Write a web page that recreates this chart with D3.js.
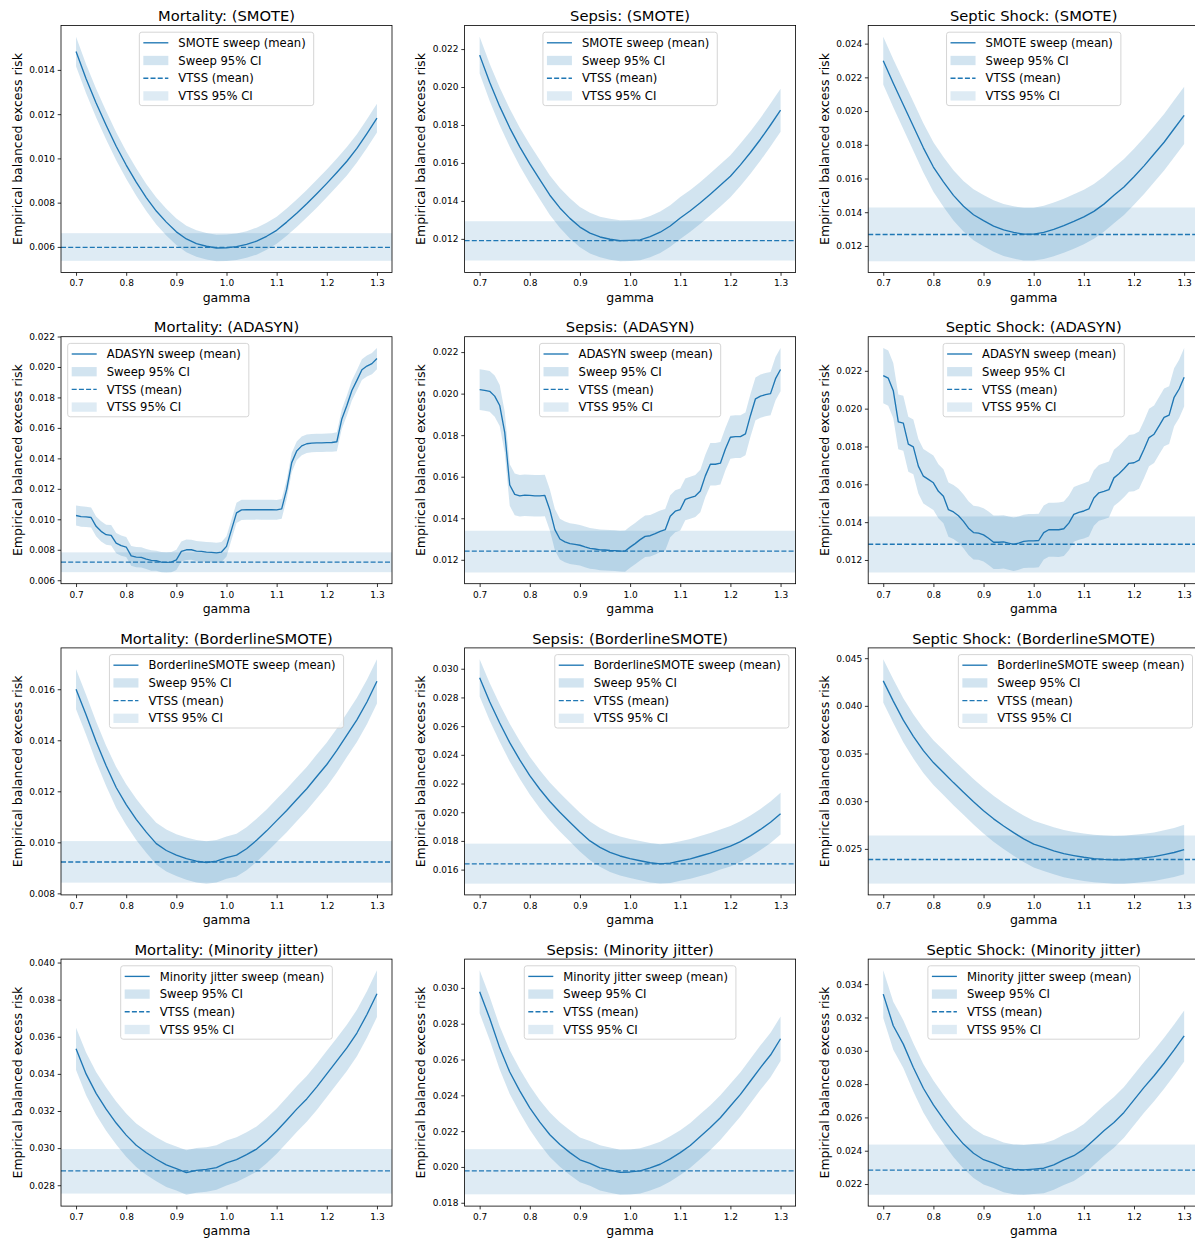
<!DOCTYPE html>
<html>
<head>
<meta charset="utf-8">
<script src="https://cdn.jsdelivr.net/npm/d3@7"></script>
<style>
  body { margin: 0; background: #fff; }
  svg { display: block; }
  text { font-family: "DejaVu Sans", sans-serif; }
</style>
</head>
<body>
<svg id="chart" width="1195" height="1241"></svg>
<script>
// ---------------------------------------------------------------------------
// Sweep grids (gamma values at which the oversampling ratio was evaluated)
// ---------------------------------------------------------------------------
const GAMMA_STEP02 = [0.70,0.72,0.74,0.76,0.78,0.80,0.82,0.84,0.86,0.88,0.90,0.92,0.94,0.96,0.98,1.00,
  1.02,1.04,1.06,1.08,1.10,1.12,1.14,1.16,1.18,1.20,1.22,1.24,1.26,1.28,1.30];
const GAMMA_STEP01 = [0.70,0.71,0.72,0.73,0.74,0.75,0.76,0.77,0.78,0.79,0.80,0.81,0.82,0.83,0.84,0.85,
  0.86,0.87,0.88,0.89,0.90,0.91,0.92,0.93,0.94,0.95,0.96,0.97,0.98,0.99,1.00,1.01,1.02,1.03,1.04,1.05,
  1.06,1.07,1.08,1.09,1.10,1.11,1.12,1.13,1.14,1.15,1.16,1.17,1.18,1.19,1.20,1.21,1.22,1.23,1.24,1.25,
  1.26,1.27,1.28,1.29,1.30];

const OUTCOMES = ["Mortality", "Sepsis", "Septic Shock"];
const METHODS = ["SMOTE", "ADASYN", "BorderlineSMOTE", "Minority jitter"];
const X_TICKS = [0.7, 0.8, 0.9, 1.0, 1.1, 1.2, 1.3];

// ---------------------------------------------------------------------------
// SMOTE sweeps: mean excess risk and half-width of the 95% CI
// ---------------------------------------------------------------------------
const smoteMortMean = [0.01483,0.01360,0.01250,0.01150,0.01055,0.00970,0.00893,0.00823,0.00762,0.00712,
  0.00668,0.00636,0.00615,0.00603,0.00595,0.00596,0.00601,0.00611,0.00626,0.00648,0.00675,0.00712,0.00752,
  0.00795,0.00840,0.00887,0.00936,0.00987,0.01045,0.01112,0.01182];
const smoteMortHalf = [0.00067,0.00066,0.00065,0.00064,0.00063,0.00062,0.00062,0.00061,0.00061,0.00060,
  0.00060,0.00060,0.00060,0.00060,0.00060,0.00060,0.00060,0.00060,0.00061,0.00061,0.00061,0.00062,0.00062,
  0.00062,0.00063,0.00063,0.00063,0.00064,0.00064,0.00065,0.00065];

const smoteSepsisMean = [0.02168,0.02025,0.01898,0.01785,0.01685,0.01595,0.01512,0.01430,0.01363,0.01308,
  0.01262,0.01230,0.01210,0.01198,0.01190,0.01192,0.01195,0.01212,0.01235,0.01268,0.01310,0.01348,0.01390,
  0.01435,0.01482,0.01530,0.01590,0.01655,0.01725,0.01800,0.01878];
const smoteSepsisHalf = [0.00097,0.00098,0.00099,0.00100,0.00101,0.00102,0.00103,0.00104,0.00105,0.00106,
  0.00106,0.00107,0.00107,0.00108,0.00108,0.00108,0.00108,0.00109,0.00109,0.00109,0.00110,0.00110,0.00110,
  0.00111,0.00111,0.00111,0.00112,0.00112,0.00112,0.00113,0.00113];

const smoteShockMean = [0.02299,0.02165,0.02038,0.01910,0.01782,0.01668,0.01580,0.01500,0.01435,0.01385,
  0.01350,0.01318,0.01295,0.01280,0.01270,0.01270,0.01280,0.01298,0.01320,0.01345,0.01372,0.01405,0.01448,
  0.01500,0.01550,0.01610,0.01675,0.01745,0.01815,0.01895,0.01975];
const smoteShockHalf = [0.00142,0.00143,0.00144,0.00145,0.00146,0.00147,0.00148,0.00149,0.00150,0.00151,
  0.00152,0.00153,0.00154,0.00155,0.00156,0.00157,0.00158,0.00159,0.00160,0.00161,0.00162,0.00163,0.00164,
  0.00165,0.00166,0.00166,0.00167,0.00167,0.00168,0.00169,0.00170];

// ---------------------------------------------------------------------------
// ADASYN sweeps (finer grid, step-shaped response)
// ---------------------------------------------------------------------------
const adasynMortMean = [0.01025,0.01018,0.01016,0.01012,0.00954,0.00921,0.00899,0.00895,0.00844,0.00827,
  0.00818,0.00760,0.00752,0.00750,0.00739,0.00730,0.00728,0.00719,0.00717,0.00719,0.00734,0.00789,0.00800,
  0.00800,0.00791,0.00789,0.00785,0.00783,0.00780,0.00785,0.00822,0.00932,0.01042,0.01062,0.01063,0.01063,
  0.01063,0.01063,0.01063,0.01063,0.01062,0.01069,0.01196,0.01372,0.01449,0.01482,0.01496,0.01500,0.01502,
  0.01502,0.01503,0.01504,0.01509,0.01659,0.01747,0.01846,0.01912,0.01982,0.02006,0.02022,0.02055];
const adasynMortHalf = [0.00066,0.00067,0.00066,0.00066,0.00065,0.00066,0.00066,0.00067,0.00066,0.00066,
  0.00066,0.00065,0.00066,0.00066,0.00066,0.00067,0.00066,0.00066,0.00066,0.00066,0.00066,0.00066,0.00067,
  0.00066,0.00066,0.00066,0.00066,0.00066,0.00066,0.00066,0.00066,0.00066,0.00066,0.00066,0.00066,0.00066,
  0.00065,0.00066,0.00066,0.00066,0.00065,0.00065,0.00064,0.00063,0.00062,0.00061,0.00060,0.00060,0.00060,
  0.00060,0.00060,0.00061,0.00062,0.00064,0.00065,0.00066,0.00067,0.00068,0.00069,0.00070,0.00070];

const adasynSepsisMean = [0.02019,0.02016,0.02011,0.01988,0.01943,0.01814,0.01560,0.01515,0.01508,0.01511,
  0.01510,0.01508,0.01508,0.01510,0.01440,0.01345,0.01300,0.01286,0.01278,0.01274,0.01270,0.01262,0.01255,
  0.01252,0.01248,0.01247,0.01245,0.01244,0.01242,0.01242,0.01261,0.01278,0.01297,0.01313,0.01316,0.01326,
  0.01337,0.01345,0.01410,0.01434,0.01442,0.01491,0.01499,0.01507,0.01531,0.01604,0.01660,0.01660,0.01665,
  0.01733,0.01790,0.01793,0.01793,0.01806,0.01895,0.01975,0.01988,0.01995,0.02000,0.02072,0.02116];
const adasynSepsisHalf = [0.00098,0.00098,0.00098,0.00099,0.00099,0.00099,0.00100,0.00100,0.00100,0.00100,
  0.00100,0.00100,0.00100,0.00100,0.00099,0.00099,0.00098,0.00098,0.00098,0.00098,0.00098,0.00098,0.00098,
  0.00098,0.00098,0.00098,0.00098,0.00098,0.00098,0.00099,0.00099,0.00099,0.00100,0.00100,0.00100,0.00100,
  0.00100,0.00100,0.00101,0.00101,0.00101,0.00101,0.00101,0.00101,0.00102,0.00102,0.00102,0.00102,0.00102,
  0.00102,0.00103,0.00103,0.00103,0.00103,0.00103,0.00103,0.00104,0.00104,0.00104,0.00104,0.00104];

const adasynShockMean = [0.02175,0.02161,0.02095,0.01930,0.01923,0.01812,0.01798,0.01696,0.01643,0.01626,
  0.01608,0.01563,0.01537,0.01466,0.01454,0.01434,0.01404,0.01368,0.01345,0.01342,0.01333,0.01315,0.01294,
  0.01294,0.01296,0.01289,0.01283,0.01289,0.01298,0.01301,0.01301,0.01303,0.01345,0.01360,0.01360,0.01360,
  0.01365,0.01395,0.01441,0.01452,0.01459,0.01470,0.01528,0.01555,0.01563,0.01572,0.01634,0.01656,0.01682,
  0.01711,0.01714,0.01728,0.01785,0.01847,0.01865,0.01909,0.01954,0.01966,0.02060,0.02104,0.02166];
const adasynShockHalf = [0.00146,0.00146,0.00146,0.00145,0.00145,0.00145,0.00145,0.00144,0.00144,0.00144,
  0.00144,0.00143,0.00143,0.00143,0.00143,0.00142,0.00142,0.00142,0.00142,0.00141,0.00141,0.00141,0.00141,
  0.00141,0.00141,0.00141,0.00141,0.00141,0.00141,0.00142,0.00142,0.00142,0.00143,0.00143,0.00143,0.00144,
  0.00144,0.00144,0.00145,0.00145,0.00146,0.00146,0.00147,0.00147,0.00148,0.00148,0.00149,0.00149,0.00150,
  0.00150,0.00151,0.00151,0.00151,0.00152,0.00152,0.00152,0.00153,0.00153,0.00153,0.00154,0.00154];

// ---------------------------------------------------------------------------
// BorderlineSMOTE sweeps
// ---------------------------------------------------------------------------
const borderMortMean = [0.01600,0.01500,0.01395,0.01300,0.01215,0.01148,0.01090,0.01040,0.00995,0.00968,
  0.00950,0.00936,0.00926,0.00921,0.00926,0.00940,0.00950,0.00975,0.01008,0.01045,0.01085,0.01125,0.01168,
  0.01210,0.01258,0.01305,0.01360,0.01420,0.01480,0.01550,0.01631];
const borderMortHalf = [0.00078,0.00078,0.00079,0.00079,0.00080,0.00080,0.00081,0.00081,0.00082,0.00082,
  0.00082,0.00083,0.00083,0.00083,0.00083,0.00083,0.00084,0.00084,0.00084,0.00084,0.00085,0.00085,0.00085,
  0.00085,0.00086,0.00086,0.00086,0.00086,0.00087,0.00087,0.00087];

const borderSepsisMean = [0.02937,0.02770,0.02622,0.02485,0.02365,0.02255,0.02160,0.02075,0.02000,0.01930,
  0.01862,0.01800,0.01755,0.01720,0.01695,0.01677,0.01662,0.01648,0.01640,0.01645,0.01660,0.01675,0.01695,
  0.01715,0.01740,0.01763,0.01795,0.01835,0.01880,0.01930,0.01990];
const borderSepsisHalf = [0.00130,0.00130,0.00131,0.00131,0.00132,0.00132,0.00133,0.00133,0.00134,0.00134,
  0.00135,0.00135,0.00135,0.00136,0.00136,0.00136,0.00137,0.00137,0.00137,0.00138,0.00138,0.00139,0.00139,
  0.00140,0.00140,0.00141,0.00142,0.00143,0.00143,0.00144,0.00145];

const borderShockMean = [0.04262,0.04050,0.03850,0.03680,0.03530,0.03405,0.03300,0.03195,0.03095,0.02995,
  0.02900,0.02815,0.02740,0.02670,0.02605,0.02550,0.02515,0.02480,0.02450,0.02430,0.02412,0.02398,0.02390,
  0.02385,0.02386,0.02395,0.02405,0.02418,0.02440,0.02462,0.02493];
const borderShockHalf = [0.00228,0.00230,0.00231,0.00233,0.00234,0.00235,0.00236,0.00237,0.00238,0.00239,
  0.00240,0.00241,0.00242,0.00243,0.00244,0.00245,0.00246,0.00246,0.00247,0.00248,0.00248,0.00249,0.00249,
  0.00250,0.00251,0.00252,0.00253,0.00254,0.00255,0.00257,0.00260];

// ---------------------------------------------------------------------------
// Minority jitter sweeps
// ---------------------------------------------------------------------------
const jitterMortMean = [0.03535,0.03400,0.03295,0.03210,0.03135,0.03070,0.03015,0.02975,0.02940,0.02910,
  0.02890,0.02868,0.02880,0.02885,0.02895,0.02920,0.02938,0.02965,0.02995,0.03040,0.03092,0.03150,0.03210,
  0.03265,0.03330,0.03400,0.03470,0.03540,0.03620,0.03720,0.03832];
const jitterMortHalf = [0.00114,0.00115,0.00115,0.00116,0.00116,0.00117,0.00117,0.00118,0.00118,0.00119,
  0.00119,0.00120,0.00120,0.00120,0.00120,0.00121,0.00121,0.00121,0.00122,0.00122,0.00122,0.00123,0.00123,
  0.00123,0.00124,0.00124,0.00124,0.00125,0.00125,0.00125,0.00126];

const jitterSepsisMean = [0.02978,0.02830,0.02665,0.02530,0.02425,0.02330,0.02250,0.02180,0.02125,0.02080,
  0.02040,0.02020,0.01995,0.01982,0.01970,0.01972,0.01978,0.01995,0.02015,0.02045,0.02080,0.02120,0.02170,
  0.02220,0.02275,0.02340,0.02405,0.02480,0.02555,0.02625,0.02716];
const jitterSepsisHalf = [0.00120,0.00121,0.00121,0.00122,0.00122,0.00123,0.00123,0.00124,0.00124,0.00125,
  0.00125,0.00125,0.00126,0.00126,0.00126,0.00126,0.00126,0.00126,0.00126,0.00126,0.00125,0.00125,0.00125,
  0.00125,0.00125,0.00124,0.00124,0.00124,0.00124,0.00124,0.00124];

const jitterShockMean = [0.03340,0.03150,0.03040,0.02900,0.02775,0.02675,0.02590,0.02510,0.02440,0.02385,
  0.02346,0.02325,0.02300,0.02288,0.02285,0.02290,0.02295,0.02315,0.02345,0.02370,0.02410,0.02465,0.02520,
  0.02570,0.02630,0.02705,0.02780,0.02850,0.02925,0.03005,0.03089];
const jitterShockHalf = [0.00143,0.00144,0.00144,0.00145,0.00145,0.00146,0.00146,0.00147,0.00147,0.00148,
  0.00148,0.00149,0.00149,0.00150,0.00150,0.00150,0.00150,0.00150,0.00151,0.00151,0.00151,0.00151,0.00152,
  0.00152,0.00152,0.00152,0.00152,0.00153,0.00153,0.00153,0.00153];

// ---------------------------------------------------------------------------
// VTSS reference (mean and 95% CI), one value per outcome [Mortality, Sepsis, Septic Shock]
// ---------------------------------------------------------------------------
const vtssMeanSmote  = [0.00598, 0.01191, 0.01268];
const vtssLoSmote    = [0.00537, 0.01086, 0.01109];
const vtssHiSmote    = [0.00662, 0.01293, 0.01428];
const vtssMeanAdasyn = [0.00719, 0.01242, 0.01283];
const vtssLoAdasyn   = [0.00653, 0.01139, 0.01134];
const vtssHiAdasyn   = [0.00783, 0.01340, 0.01430];
const vtssMeanBorder = [0.00923, 0.01640, 0.02388];
const vtssLoBorder   = [0.00842, 0.01502, 0.02136];
const vtssHiBorder   = [0.01005, 0.01781, 0.02640];
const vtssMeanJitter = [0.02877, 0.01978, 0.02284];
const vtssLoJitter   = [0.02755, 0.01847, 0.02136];
const vtssHiJitter   = [0.02995, 0.02099, 0.02437];

// y tick values per panel row (method) and column (outcome)
const yTicksSmote  = [[0.006,0.008,0.010,0.012,0.014],[0.012,0.014,0.016,0.018,0.020,0.022],
                      [0.012,0.014,0.016,0.018,0.020,0.022,0.024]];
const yTicksAdasyn = [[0.006,0.008,0.010,0.012,0.014,0.016,0.018,0.020,0.022],
                      [0.012,0.014,0.016,0.018,0.020,0.022],[0.012,0.014,0.016,0.018,0.020,0.022]];
const yTicksBorder = [[0.008,0.010,0.012,0.014,0.016],[0.016,0.018,0.020,0.022,0.024,0.026,0.028,0.030],
                      [0.025,0.030,0.035,0.040,0.045]];
const yTicksJitter = [[0.028,0.030,0.032,0.034,0.036,0.038,0.040],[0.018,0.020,0.022,0.024,0.026,0.028,0.030],
                      [0.022,0.024,0.026,0.028,0.030,0.032,0.034]];

// Legend placement per row/column
const legendLocs = [["center","center","center"],["left","center","center"],
                    ["center","right","right"],["center","center","center"]];

// ---------------------------------------------------------------------------
// Assemble the panel table
// ---------------------------------------------------------------------------
const rowsByMethod = [
  { gamma: GAMMA_STEP02, means: [smoteMortMean, smoteSepsisMean, smoteShockMean],
    halves: [smoteMortHalf, smoteSepsisHalf, smoteShockHalf],
    vMean: vtssMeanSmote, vLo: vtssLoSmote, vHi: vtssHiSmote, yTicks: yTicksSmote },
  { gamma: GAMMA_STEP01, means: [adasynMortMean, adasynSepsisMean, adasynShockMean],
    halves: [adasynMortHalf, adasynSepsisHalf, adasynShockHalf],
    vMean: vtssMeanAdasyn, vLo: vtssLoAdasyn, vHi: vtssHiAdasyn, yTicks: yTicksAdasyn },
  { gamma: GAMMA_STEP02, means: [borderMortMean, borderSepsisMean, borderShockMean],
    halves: [borderMortHalf, borderSepsisHalf, borderShockHalf],
    vMean: vtssMeanBorder, vLo: vtssLoBorder, vHi: vtssHiBorder, yTicks: yTicksBorder },
  { gamma: GAMMA_STEP02, means: [jitterMortMean, jitterSepsisMean, jitterShockMean],
    halves: [jitterMortHalf, jitterSepsisHalf, jitterShockHalf],
    vMean: vtssMeanJitter, vLo: vtssLoJitter, vHi: vtssHiJitter, yTicks: yTicksJitter }
];

// ---------------------------------------------------------------------------
// Drawing
// ---------------------------------------------------------------------------
const BLUE = "#1f77b4";
const PW = 331, PH = 247;
const COL_X0 = 61, COL_STEP = 403.6;
const ROW_Y0 = 25.5, ROW_STEP = 311.2;
const LINE_W = 1.35;

const svg = d3.select("#chart");
svg.append("rect").attr("width", 1195).attr("height", 1241).attr("fill", "#fff");

function padded([a, b]) {
  const m = (b - a) * 0.05;
  return [a - m, b + m];
}

function drawLegend(g, loc, method) {
  const fs = 11.6, rowH = 17.7, padL = 4, handleW = 25, gap = 10, padR = 8, padT = 10.6, padB = 9.7;
  const items = [
    { kind: "line", text: method + " sweep (mean)" },
    { kind: "patch", op: 0.2, text: "Sweep 95% CI" },
    { kind: "dash", text: "VTSS (mean)" },
    { kind: "patch", op: 0.15, text: "VTSS 95% CI" }
  ];
  const lg = g.append("g");
  const box = lg.append("rect")
    .attr("fill", "#fff").attr("fill-opacity", 0.8)
    .attr("stroke", "#d0d0d0").attr("stroke-width", 0.9)
    .attr("rx", 2.5).attr("ry", 2.5);
  let maxW = 0;
  items.forEach((it, i) => {
    const cy = padT + i * rowH;
    if (it.kind === "line" || it.kind === "dash") {
      const ln = lg.append("line")
        .attr("x1", padL).attr("x2", padL + handleW)
        .attr("y1", cy).attr("y2", cy)
        .attr("stroke", BLUE).attr("stroke-width", LINE_W);
      if (it.kind === "dash") ln.attr("stroke-dasharray", "5,2.2");
    } else {
      lg.append("rect")
        .attr("x", padL).attr("y", cy - 4.65)
        .attr("width", handleW).attr("height", 9.3)
        .attr("fill", BLUE).attr("fill-opacity", it.op);
    }
    const t = lg.append("text")
      .attr("x", padL + handleW + gap).attr("y", cy + 0.36 * fs)
      .attr("font-size", fs).attr("fill", "#000")
      .text(it.text);
    maxW = Math.max(maxW, t.node().getComputedTextLength());
  });
  const bw = padL + handleW + gap + maxW + padR;
  const bh = padT + 3 * rowH + padB;
  box.attr("width", bw).attr("height", bh);
  let x0;
  if (loc === "left") x0 = 6.7;
  else if (loc === "right") x0 = PW - 6.7 - bw;
  else x0 = (PW - bw) / 2;
  lg.attr("transform", `translate(${x0},6.7)`);
}

rowsByMethod.forEach((row, r) => {
  OUTCOMES.forEach((outcome, c) => {
    const gamma = row.gamma;
    const mean = row.means[c];
    const half = row.halves[c];
    const vMean = row.vMean[c], vLo = row.vLo[c], vHi = row.vHi[c];
    const pts = gamma.map((gm, i) => ({ g: gm, m: mean[i], lo: mean[i] - half[i], hi: mean[i] + half[i] }));

    const left = COL_X0 + c * COL_STEP;
    const top = ROW_Y0 + r * ROW_STEP;
    const g = svg.append("g").attr("transform", `translate(${left},${top})`);

    const x = d3.scaleLinear().domain(padded(d3.extent(gamma))).range([0, PW]);
    const yExt = d3.extent([...pts.map(p => p.lo), ...pts.map(p => p.hi), vLo, vHi]);
    const y = d3.scaleLinear().domain(padded(yExt)).range([PH, 0]);

    const clipId = `clip-${r}-${c}`;
    g.append("clipPath").attr("id", clipId)
      .append("rect").attr("width", PW).attr("height", PH);
    const plot = g.append("g").attr("clip-path", `url(#${clipId})`);

    // VTSS confidence band across the whole axis width
    plot.append("rect")
      .attr("x", 0).attr("width", PW)
      .attr("y", y(vHi)).attr("height", y(vLo) - y(vHi))
      .attr("fill", BLUE).attr("fill-opacity", 0.15);

    // sweep confidence band
    plot.append("path").datum(pts)
      .attr("d", d3.area().x(p => x(p.g)).y0(p => y(p.lo)).y1(p => y(p.hi)))
      .attr("fill", BLUE).attr("fill-opacity", 0.2);

    // sweep mean
    plot.append("path").datum(pts)
      .attr("d", d3.line().x(p => x(p.g)).y(p => y(p.m)))
      .attr("fill", "none").attr("stroke", BLUE)
      .attr("stroke-width", LINE_W).attr("stroke-linejoin", "round");

    // VTSS mean
    plot.append("line")
      .attr("x1", 0).attr("x2", PW).attr("y1", y(vMean)).attr("y2", y(vMean))
      .attr("stroke", BLUE).attr("stroke-width", LINE_W).attr("stroke-dasharray", "5,2.2");

    // axes
    const xAxis = g.append("g").attr("transform", `translate(0,${PH})`)
      .call(d3.axisBottom(x).tickValues(X_TICKS).tickFormat(d3.format(".1f"))
        .tickSize(3.3).tickPadding(4.2));
    const yAxis = g.append("g")
      .call(d3.axisLeft(y).tickValues(row.yTicks[c]).tickFormat(d3.format(".3f"))
        .tickSize(3.3).tickPadding(2.8));
    [xAxis, yAxis].forEach(ax => {
      ax.select(".domain").remove();
      ax.selectAll(".tick line").attr("stroke", "#000").attr("stroke-width", 0.8);
      ax.selectAll(".tick text").attr("font-size", 9).attr("fill", "#000")
        .attr("font-family", "DejaVu Sans, sans-serif");
    });

    // frame
    g.append("rect").attr("width", PW).attr("height", PH)
      .attr("fill", "none").attr("stroke", "#000").attr("stroke-width", 0.8);

    // labels
    g.append("text").attr("x", PW / 2).attr("y", -4.3)
      .attr("text-anchor", "middle").attr("font-size", 14.7).attr("fill", "#000")
      .text(`${outcome}: (${METHODS[r]})`);
    g.append("text").attr("x", PW / 2).attr("y", PH + 29)
      .attr("text-anchor", "middle").attr("font-size", 12.5).attr("fill", "#000")
      .text("gamma");
    g.append("text")
      .attr("transform", `translate(-39.5,${PH / 2}) rotate(-90)`)
      .attr("text-anchor", "middle").attr("font-size", 12.5).attr("fill", "#000")
      .text("Empirical balanced excess risk");

    drawLegend(g, legendLocs[r][c], METHODS[r]);
  });
});
</script>
</body>
</html>
